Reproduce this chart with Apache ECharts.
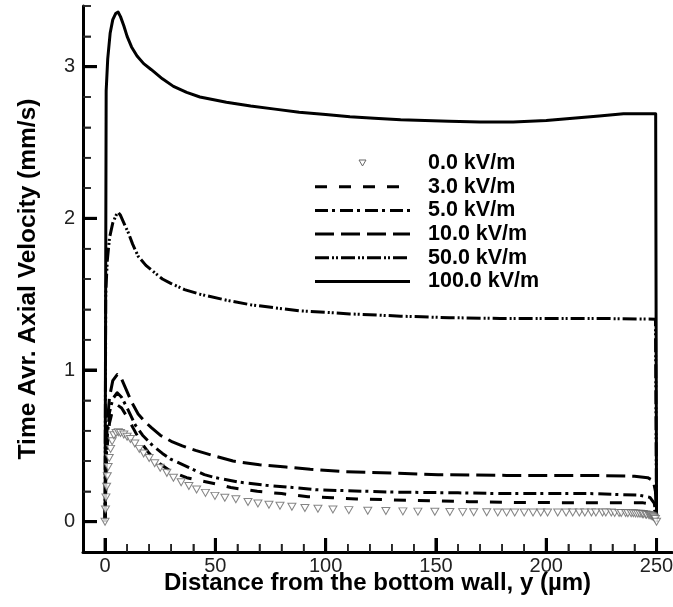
<!DOCTYPE html>
<html>
<head>
<meta charset="utf-8">
<script src="https://cdn.jsdelivr.net/npm/echarts@6/dist/echarts.min.js"></script>
<style>
  html, body { margin: 0; padding: 0; background: #fff; }
  #chart { width: 673px; height: 607px; }
</style>
</head>
<body>
<div id="chart"></div>
<script>
// Field strengths shown in the key
const seriesNames = ['0.0 kV/m', '3.0 kV/m', '5.0 kV/m', '10.0 kV/m', '50.0 kV/m', '100.0 kV/m'];

// Axis tick labels
const xTickLabels = [0, 50, 100, 150, 200, 250];
const yTickLabels = [0, 1, 2, 3];

// 0.0 kV/m — values at the mesh nodes (distance in µm, velocity in mm/s)
const y0 = [0, 0.2, 0.4, 0.7, 1.0, 1.4, 1.9, 2.5, 3.2, 4.0, 5.0, 6.0, 7.0, 8.5, 10, 11.5, 13.5, 15.5, 17.5, 20,
  22.5, 25, 28, 31, 34.5, 38, 41.5, 45.5, 49.8, 54.3, 59.3, 64.8, 69.3, 74.3, 79.3, 84.7, 90.6, 96.5, 103.3, 110.5,
  119.1, 127.3, 135, 141.8, 149.5, 156.3, 162.1, 167.1, 173, 178, 182, 185.7, 190, 194, 197.5, 200.6, 205.2, 209,
  212, 215, 217.5, 220.5, 222.5, 225.5, 227, 229.5, 231, 233, 234, 236, 237, 238.5, 239.5, 240.5, 241.5, 242.5,
  243.5, 244, 245, 245.5, 246.5, 247, 247.5, 248, 248.5, 249, 249.5, 250];
const v0 = [0, 0.08, 0.16, 0.23, 0.30, 0.36, 0.42, 0.48, 0.53, 0.57, 0.585, 0.59, 0.585, 0.575, 0.56, 0.545, 0.515, 0.48, 0.45, 0.42,
  0.385, 0.355, 0.322, 0.29, 0.26, 0.235, 0.212, 0.19, 0.17, 0.158, 0.148, 0.13, 0.12, 0.112, 0.105, 0.098, 0.09, 0.085, 0.08, 0.076,
  0.072, 0.07, 0.068, 0.066, 0.065, 0.064, 0.063, 0.062, 0.062, 0.061, 0.061, 0.06, 0.06, 0.06, 0.06, 0.06, 0.06, 0.06,
  0.06, 0.06, 0.06, 0.06, 0.06, 0.06, 0.06, 0.06, 0.058, 0.058, 0.057, 0.057, 0.056, 0.055, 0.055, 0.054, 0.053, 0.052,
  0.05, 0.05, 0.048, 0.046, 0.044, 0.042, 0.04, 0.036, 0.032, 0.026, 0.018, 0];

// 3.0 kV/m
const y3 = [0, 0.5, 1, 2, 3.5, 5.5, 7.5, 10, 13, 16, 20, 25, 30, 37, 45, 50, 57, 69, 80, 92, 103, 114, 140, 165, 190, 220, 244, 247.5, 249, 250];
const v3 = [0, 0.35, 0.5, 0.65, 0.74, 0.77, 0.75, 0.69, 0.61, 0.53, 0.45, 0.38, 0.33, 0.29, 0.265, 0.25, 0.225, 0.2, 0.185, 0.165, 0.158, 0.15, 0.14, 0.132, 0.126, 0.125, 0.124, 0.115, 0.09, 0];

// 5.0 kV/m
const y5 = [0, 0.5, 1, 2, 3.5, 5.5, 7.5, 10, 13.6, 17, 21.7, 26, 30, 37.6, 45, 50, 61, 73, 85, 96, 108, 130, 160, 180, 220, 242, 247, 249, 250];
const v5 = [0, 0.4, 0.56, 0.72, 0.81, 0.85, 0.82, 0.75, 0.64, 0.57, 0.5, 0.45, 0.41, 0.36, 0.31, 0.29, 0.26, 0.24, 0.225, 0.21, 0.205, 0.195, 0.19, 0.185, 0.185, 0.175, 0.16, 0.12, 0];

// 10.0 kV/m
const y10 = [0, 0.5, 1, 2, 3.5, 5.5, 7.5, 9, 12, 15, 18, 21, 25, 30, 35, 41, 48, 58, 70, 82, 93, 108, 130, 151, 182, 220, 240, 246, 248.5, 249.5, 250];
const v10 = [0, 0.45, 0.64, 0.82, 0.93, 0.97, 0.94, 0.89, 0.79, 0.71, 0.66, 0.62, 0.57, 0.53, 0.5, 0.47, 0.44, 0.4, 0.375, 0.36, 0.345, 0.33, 0.32, 0.31, 0.305, 0.305, 0.3, 0.29, 0.27, 0.2, 0];

// 50.0 kV/m
const y50 = [0, 0.3, 1, 2, 3.5, 5, 5.9, 7, 8.5, 10.4, 12.5, 15, 18.5, 22.6, 26, 30, 36, 43, 55, 66, 77, 88, 100, 111, 134, 156, 179, 224, 249.5, 250];
const v50 = [0, 1.5, 1.72, 1.87, 1.97, 2.02, 2.04, 2.02, 1.97, 1.91, 1.83, 1.75, 1.69, 1.64, 1.6, 1.57, 1.53, 1.5, 1.46, 1.43, 1.41, 1.39, 1.38, 1.37, 1.355, 1.345, 1.34, 1.34, 1.335, 0];

// 100.0 kV/m
const y100 = [0, 0.5, 1.2, 2.3, 3.5, 4.8, 5.9, 7, 8.5, 10, 12, 14.5, 17.5, 21, 26, 31, 37, 43, 55, 66, 77, 88, 100, 111, 122, 134, 156, 170, 185, 200, 212, 224, 235, 249.6, 250];
const v100 = [0, 2.84, 3.05, 3.22, 3.31, 3.35, 3.36, 3.33, 3.27, 3.2, 3.13, 3.07, 3.02, 2.98, 2.92, 2.87, 2.83, 2.8, 2.765, 2.74, 2.72, 2.7, 2.685, 2.67, 2.66, 2.65, 2.64, 2.635, 2.635, 2.645, 2.66, 2.675, 2.69, 2.69, 0];

const pairs = (xs, ys) => xs.map((x, i) => [x, ys[i]]);

// Line dash patterns per field strength (null = solid)
const dashes = [null, [12, 12], [13, 4, 3, 5], [19, 7], [14, 3, 2, 2, 2, 3], null];

const FONT = 'Liberation Sans, Arial, Helvetica, sans-serif';

const lineSeries = (name, data, dash) => ({
  name, type: 'line', data, symbol: 'none', z: 2,
  lineStyle: { color: '#000', width: 3, type: dash || 'solid', cap: 'butt', join: 'round' }
});

// Minor tick positions every 10 µm / 0.2 mm/s (majors excluded)
const xMinor = [];
for (let v = 10; v <= 250; v += 10) if (xTickLabels.indexOf(v) < 0) xMinor.push(v);
const yMinor = [];
for (let k = 1; k <= 18; k++) {
  const v = Math.round((-0.2 + k * 0.2) * 10) / 10;
  if (yTickLabels.indexOf(v) < 0) yMinor.push(v);
}

const X_MIN = -10, X_MAX = 257, Y_MIN = -0.2, Y_MAX = 3.4;

const chart = echarts.init(document.getElementById('chart'), null, { renderer: 'canvas' });

// Key drawn as graphic elements
const keyTop = 163, keyStep = 23.7, keyX0 = 315, keyX1 = 410, keyTextX = 428;
const keyGraphics = [];
seriesNames.forEach((name, i) => {
  const cy = keyTop + i * keyStep;
  const mid = (keyX0 + keyX1) / 2;
  if (i === 0) {
    keyGraphics.push({
      type: 'polygon',
      shape: { points: [[mid - 3.5, cy - 3], [mid + 3.5, cy - 3], [mid, cy + 3]] },
      style: { fill: '#fff', stroke: '#666', lineWidth: 1 }
    });
  } else {
    keyGraphics.push({
      type: 'line',
      shape: { x1: keyX0, y1: cy, x2: keyX1, y2: cy },
      style: { stroke: '#000', lineWidth: 3, lineDash: dashes[i] || null }
    });
  }
  keyGraphics.push({
    type: 'text',
    x: keyTextX, y: cy,
    style: { text: name, font: 'bold 21.5px ' + FONT, fill: '#000', verticalAlign: 'middle', align: 'left' }
  });
});

const option = {
  animation: false,
  grid: { left: 83, top: 6, right: 1, bottom: 55, outerBoundsMode: 'none' },
  xAxis: [
    {
      type: 'value', min: X_MIN, max: X_MAX, position: 'bottom',
      name: 'Distance from the bottom wall, y (µm)', nameLocation: 'middle', nameGap: 19,
      nameTextStyle: { fontFamily: FONT, fontWeight: 'bold', fontSize: 24, color: '#000', verticalAlign: 'top' },
      axisLine: { show: true, onZero: false, lineStyle: { color: '#000', width: 3 } },
      axisTick: { show: true, inside: true, length: 8, customValues: xMinor, lineStyle: { color: '#222', width: 1.5 } },
      axisLabel: { show: false },
      splitLine: { show: false }
    },
    {
      type: 'value', min: X_MIN, max: X_MAX, position: 'bottom',
      axisLine: { show: false, onZero: false },
      axisTick: { show: true, inside: false, length: -14, customValues: xTickLabels, lineStyle: { color: '#000', width: 3 } },
      axisLabel: { show: true, customValues: xTickLabels, margin: 4, fontFamily: FONT, fontSize: 20, color: '#222' },
      splitLine: { show: false }
    }
  ],
  yAxis: [
    {
      type: 'value', min: Y_MIN, max: Y_MAX, position: 'left',
      name: 'Time Avr. Axial Velocity (mm/s)', nameLocation: 'middle', nameGap: 42, nameRotate: 90,
      nameTextStyle: { fontFamily: FONT, fontWeight: 'bold', fontSize: 24.5, color: '#000' },
      axisLine: { show: true, onZero: false, lineStyle: { color: '#000', width: 3 } },
      axisTick: { show: true, inside: true, length: 8, customValues: yMinor, lineStyle: { color: '#222', width: 1.5 } },
      axisLabel: { show: false },
      splitLine: { show: false }
    },
    {
      type: 'value', min: Y_MIN, max: Y_MAX, position: 'left',
      axisLine: { show: false, onZero: false },
      axisTick: { show: true, inside: false, length: -14, customValues: yTickLabels, lineStyle: { color: '#000', width: 3 } },
      axisLabel: { show: true, customValues: yTickLabels, margin: 8, fontFamily: FONT, fontSize: 20, color: '#222' },
      splitLine: { show: false }
    }
  ],
  series: [
    {
      name: seriesNames[0], type: 'scatter', data: pairs(y0, v0), z: 3,
      symbol: 'triangle', symbolRotate: 180, symbolSize: [8, 7],
      itemStyle: { color: '#fff', borderColor: '#666', borderWidth: 1 }
    },
    lineSeries(seriesNames[1], pairs(y3, v3), dashes[1]),
    lineSeries(seriesNames[2], pairs(y5, v5), dashes[2]),
    lineSeries(seriesNames[3], pairs(y10, v10), dashes[3]),
    lineSeries(seriesNames[4], pairs(y50, v50), dashes[4]),
    lineSeries(seriesNames[5], pairs(y100, v100), dashes[5])
  ],
  graphic: keyGraphics
};

chart.setOption(option);

// Inward tick marks along both axes, positioned through the grid's own scales
const tickMarks = [];
const toPx = (x, y) => chart.convertToPixel({ gridIndex: 0 }, [x, y]);
const addTick = (isX, v, len, width, color) => {
  const p = isX ? toPx(v, Y_MIN) : toPx(X_MIN, v);
  if (!p || !isFinite(p[0]) || !isFinite(p[1])) return;
  tickMarks.push({
    type: 'line', z: 10,
    shape: isX ? { x1: p[0], y1: p[1], x2: p[0], y2: p[1] - len } : { x1: p[0], y1: p[1], x2: p[0] + len, y2: p[1] },
    style: { stroke: color, lineWidth: width }
  });
};
xMinor.forEach(v => addTick(true, v, 8, 1.5, '#222'));
yMinor.forEach(v => addTick(false, v, 8, 1.5, '#222'));
xTickLabels.forEach(v => addTick(true, v, 14, 3, '#000'));
yTickLabels.forEach(v => addTick(false, v, 14, 3, '#000'));

chart.setOption({ graphic: keyGraphics.concat(tickMarks) });
</script>
</body>
</html>
